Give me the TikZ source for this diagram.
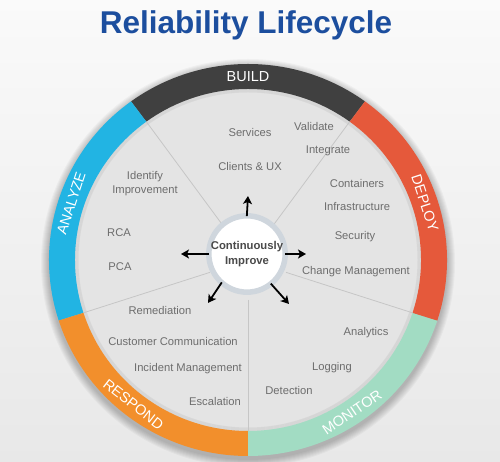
\documentclass[tikz,border=0pt]{standalone}
\usepackage{fontspec}
\setmainfont{Liberation Sans}
\usetikzlibrary{arrows.meta}
\definecolor{titleblue}{HTML}{1C4E9E}
\definecolor{cbuild}{HTML}{404040}
\definecolor{cdeploy}{HTML}{E5593B}
\definecolor{cmonitor}{HTML}{A2DCC3}
\definecolor{crespond}{HTML}{F28F2C}
\definecolor{canalyze}{HTML}{22B4E3}
\definecolor{diskgray}{HTML}{E4E4E4}
\definecolor{divgray}{HTML}{C6C6C6}
\definecolor{labelgray}{HTML}{6D6D6D}
\definecolor{coretext}{HTML}{4A4A4A}
\definecolor{rimgray}{HTML}{CFD6DD}
\begin{document}
\begin{tikzpicture}[x=1pt,y=1pt,
  lbl/.style={text=labelgray, font=\fontsize{11.2}{14}\selectfont, inner sep=0pt, align=center, anchor=base},
  ringlbl/.style={text=white, font=\fontsize{14.5}{16}\selectfont, inner sep=0pt},
  divider/.style={draw=divgray, line width=0.8pt},
  outarrow/.style={-{Stealth[length=8pt,width=9pt,inset=2pt]}, line width=1.8pt, black, shorten <=-3pt}]
\useasboundingbox (0,0) rectangle (500,462);
\shade[top color=white!98!black, bottom color=white!91!black] (0,0) rectangle (500,462);

% title
\node[font=\fontsize{31.5}{36}\selectfont\bfseries, text=titleblue, anchor=base, inner sep=0pt] (title) at (246,428) {Reliability Lifecycle};

\begin{scope}[shift={(248,202)}]
  % soft shadow
  \foreach \k in {1,...,8}
    \fill[black, opacity=0.03] (0,-3) ellipse[x radius=199+\k, y radius=196+\k];
  % gray disk
  \fill[diskgray] (0,0) ellipse[x radius=175, y radius=173];
  % inner shadow near ring
  \foreach \k in {1,...,4}
    \draw[black, opacity=0.05, line width=1pt] (0,0) ellipse[x radius=174-\k, y radius=172-\k];
  % ring sectors
  \foreach \a/\b/\c in {54/126/cbuild, 126/198/canalyze, 198/270/crespond, 270/342/cmonitor, 342/414/cdeploy}
    \fill[\c] (\a:199 and 196) arc[start angle=\a, end angle=\b, x radius=199, y radius=196]
      -- (\b:173 and 171) arc[start angle=\b, end angle=\a, x radius=173, y radius=171] -- cycle;
  % dividers
  \foreach \a in {54,126,198,270,342}
    \draw[divider] (\a:40) -- (\a:173 and 171);
  % ring labels
  \node[ringlbl] (build) at (90:186 and 183.5) {BUILD};
  \node[ringlbl, rotate=-72] (deploy) at (18:186 and 183.5) {DEPLOY};
  \node[ringlbl, rotate=34] (monitor) at (-56:186 and 183.5) {MONITOR};
  \node[ringlbl, rotate=-38] (respond) at (232:186 and 183.5) {RESPOND};
  \node[ringlbl, rotate=72] (analyze) at (162:186 and 183.5) {ANALYZE};
\end{scope}

% centre
\node[circle, fill=white, draw=rimgray, line width=5.5pt, minimum size=76pt, inner sep=0pt,
  text=coretext, font=\fontsize{11.3}{15}\selectfont\bfseries, align=center] (core) at (247,208) {Continuously\\Improve};

\coordinate (tipU) at (248,266);
\coordinate (tipL) at (181,208);
\coordinate (tipR) at (306,208);
\coordinate (tipDL) at (208,159);
\coordinate (tipDR) at (289,158);
\draw[outarrow] (core.90) -- (tipU);
\draw[outarrow] (core.180) -- (tipL);
\draw[outarrow] (core.0) -- (tipR);
\draw[outarrow] (core.229) -- (tipDL);
\draw[outarrow] (core.309) -- (tipDR);

% labels (base y = 458 - visual centre)
\node[lbl] (services) at (250,325) {Services};
\node[lbl] (validate) at (314,331) {Validate};
\node[lbl] (clients) at (250,291) {Clients \& UX};
\node[lbl] (integrate) at (328,308) {Integrate};
\node[lbl] (identify) at (145,268) {Identify\\Improvement};
\node[lbl] (rca) at (119,225) {RCA};
\node[lbl] (pca) at (120,191) {PCA};
\node[lbl] (containers) at (357,274) {Containers};
\node[lbl] (infra) at (357,251) {Infrastructure};
\node[lbl] (security) at (355,222) {Security};
\node[lbl] (change) at (356,187) {Change Management};
\node[lbl] (remediation) at (160,147) {Remediation};
\node[lbl] (customer) at (173,116) {Customer Communication};
\node[lbl] (incident) at (188,90) {Incident Management};
\node[lbl] (escalation) at (215,56) {Escalation};
\node[lbl] (analytics) at (366,126) {Analytics};
\node[lbl] (logging) at (332,91) {Logging};
\node[lbl] (detection) at (289,67) {Detection};
\end{tikzpicture}
\end{document}
